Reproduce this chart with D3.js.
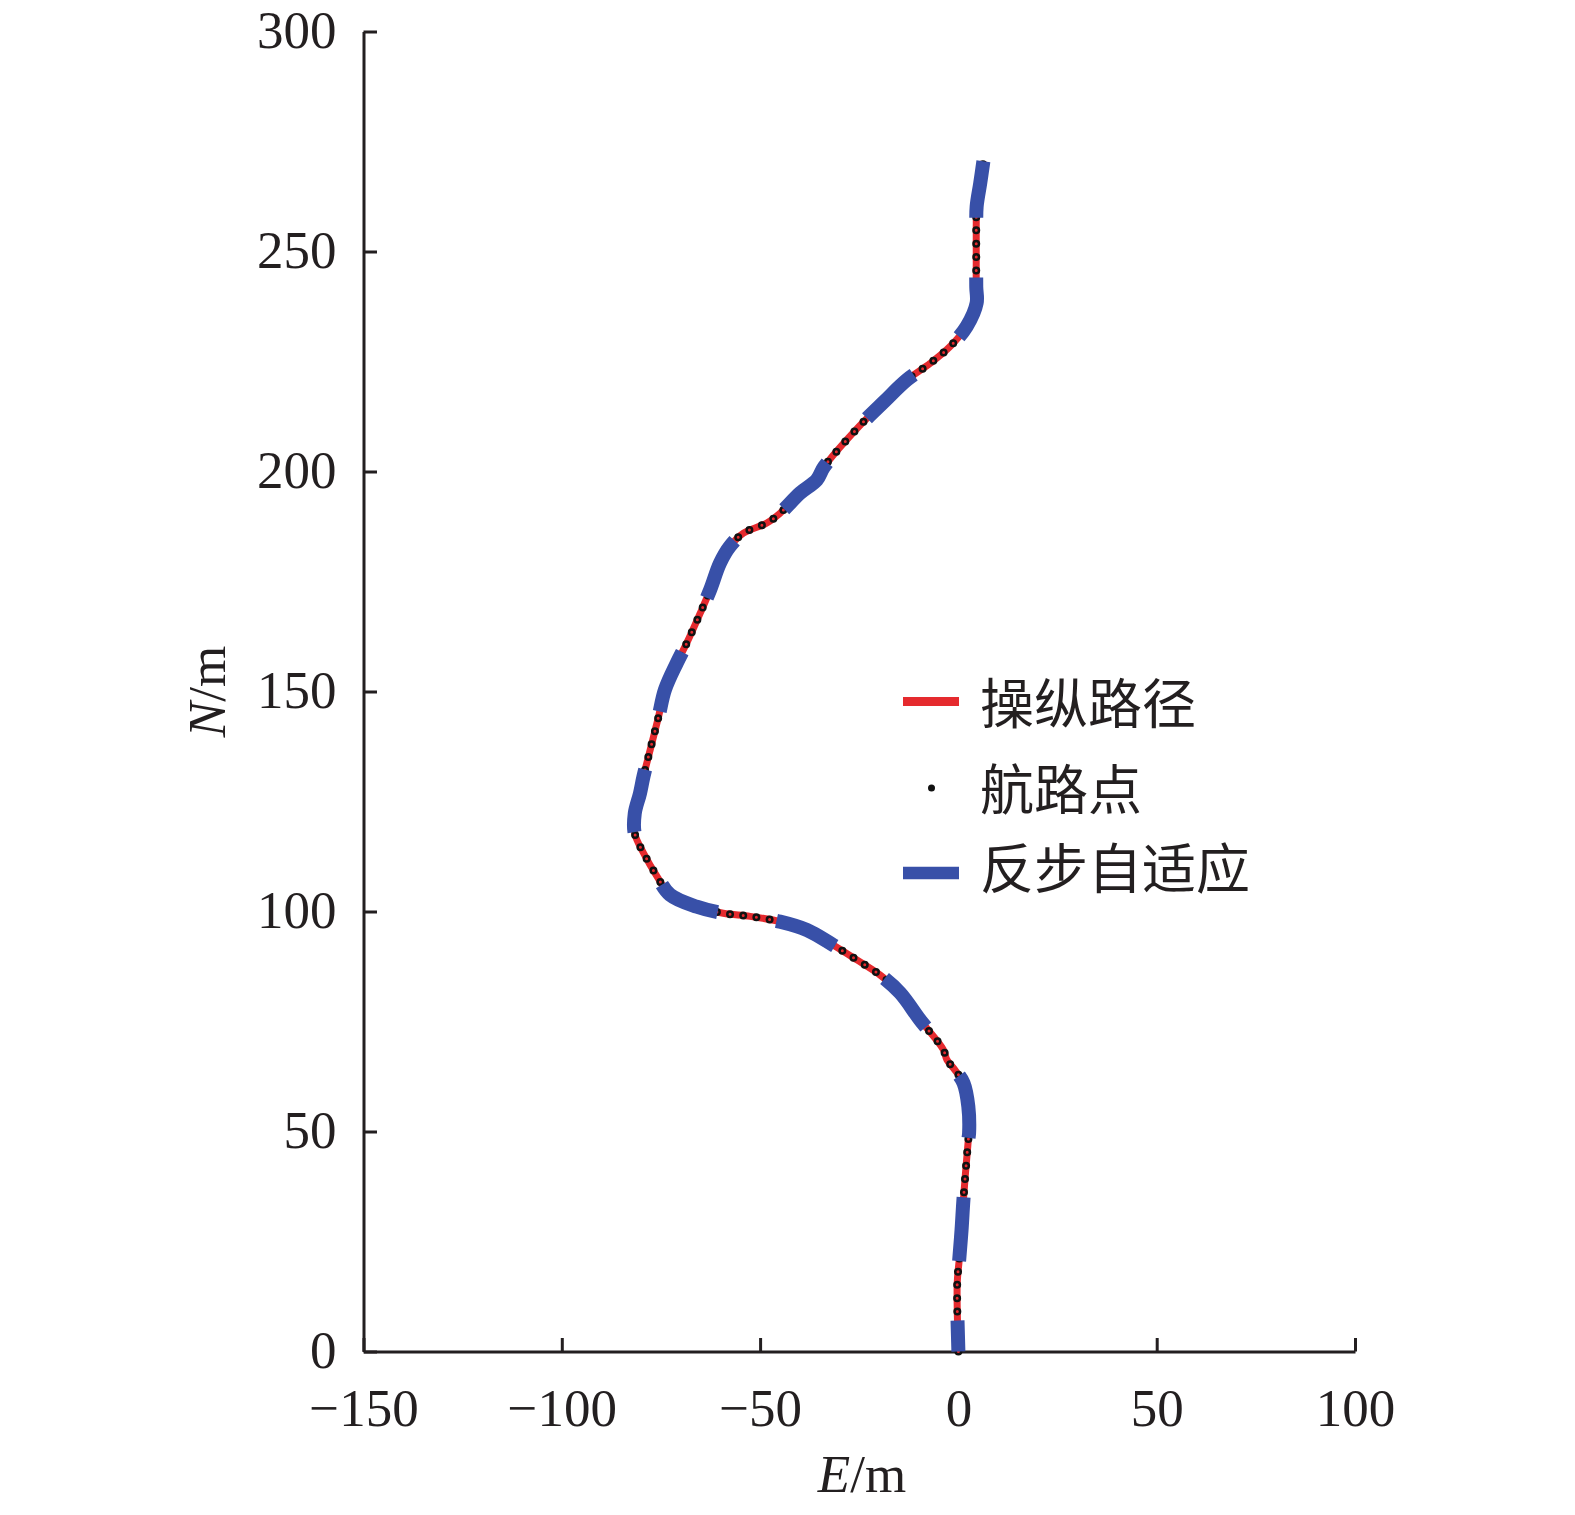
<!DOCTYPE html>
<html>
<head>
    <meta charset="utf-8">
    <title>航路跟踪</title>
    <script src="https://d3js.org/d3.v7.min.js"></script>
    <style>
        body { margin: 0; background: #fff; }
        text { fill: #231f20; }
    </style>
</head>
<body>
    <script>
        // route points (E, N in metres)
        var eastData = [0, -0.3, 0.2, 0.8, 1.3, 2.5, 2.7, 2.5, 1.3, -0.9, -2.9, -3.8, -9.7, -14.7, -19.8, -25.6, -31.6,
            -38.2, -45, -52.5, -59.3, -66, -72.7, -76, -79.4, -81.6, -81.6, -80.3, -79.4, -77.7, -75.6, -74,
            -71, -68.5, -65.1, -62.6, -60.1, -57.6, -54.2, -48.3, -45, -39.9, -35.7, -33.9, -25.1, -18.7, -13,
            -7.1, -2.1, 2.1, 4.6, 4.5, 4.5, 4.5, 4.6, 5.5, 6.3];
        var northData = [0, 15.5, 20.8, 27.7, 34.9, 48.1, 49.7, 55.7, 61, 64, 66.3, 68.6, 75.4, 81.5, 85.6, 89, 92.4,
            95.8, 97.7, 98.9, 99.6, 101.1, 103.8, 108, 113.3, 117.7, 122.3, 126.8, 130.7, 136.8, 144.3, 150.4,
            156.5, 161, 167.8, 173.1, 179.2, 183, 186, 188.3, 190.5, 195.1, 198.1, 201, 210.2, 215.9, 220.8,
            224.6, 228.4, 233, 238.3, 242, 248.9, 255.7, 260.2, 265.5, 270.5];
        var xTicks = [-150, -100, -50, 0, 50, 100];
        var yTicks = [0, 50, 100, 150, 200, 250, 300];
        var legendNames = ["操纵路径", "航路点", "反步自适应"];

        var width = 1575;
        var height = 1515;
        var red = "#e52a2e";
        var blue = "#3850a8";
        var ink = "#231f20";
        var serif = "'Liberation Serif', 'Times New Roman', serif";

        var pts = eastData.map(function(e, i) { return [e, northData[i]]; });

        var x = d3.scaleLinear().domain([-150, 100]).range([363.5, 1355]);
        var y = d3.scaleLinear().domain([0, 300]).range([1351.5, 31.5]);

        var svg = d3.select("body").append("svg")
            .attr("width", width)
            .attr("height", height);

        var line = d3.line()
            .x(function(d) { return x(d[0]); })
            .y(function(d) { return y(d[1]); })
            .curve(d3.curveCatmullRom);

        // axes, ticks point inward
        var xAxis = svg.append("g")
            .attr("transform", "translate(0," + y(0) + ")")
            .call(d3.axisBottom(x).tickValues(xTicks).tickSizeInner(-13.5).tickSizeOuter(0).tickPadding(37));
        var yAxis = svg.append("g")
            .attr("transform", "translate(" + x(-150) + ",0)")
            .call(d3.axisLeft(y).tickValues(yTicks).tickSizeInner(-13.5).tickSizeOuter(0).tickPadding(27));

        [xAxis, yAxis].forEach(function(a) {
            a.select(".domain").attr("stroke", ink).attr("stroke-width", 3);
            a.selectAll(".tick line").attr("stroke", ink).attr("stroke-width", 3);
            a.selectAll(".tick text")
                .attr("fill", ink)
                .style("font-family", serif)
                .style("font-size", "53px");
        });
        yAxis.selectAll(".tick text").attr("dy", "0.3em");

        // red route
        svg.append("path")
            .datum(pts)
            .attr("d", line)
            .attr("fill", "none")
            .attr("stroke", red)
            .attr("stroke-width", 7);

        // waypoint rings along the route
        svg.append("path")
            .datum(pts)
            .attr("d", line)
            .attr("fill", "none")
            .attr("stroke", "#111")
            .attr("stroke-width", 8)
            .attr("stroke-linecap", "round")
            .attr("stroke-dasharray", "0 13.3");
        svg.append("path")
            .datum(pts)
            .attr("d", line)
            .attr("fill", "none")
            .attr("stroke", red)
            .attr("stroke-width", 3)
            .attr("stroke-linecap", "round")
            .attr("stroke-dasharray", "0 13.3");

        // blue dashed controller track
        svg.append("path")
            .datum(pts)
            .attr("d", line)
            .attr("fill", "none")
            .attr("stroke", blue)
            .attr("stroke-width", 14)
            .attr("stroke-dasharray", "64 59.5")
            .attr("stroke-dashoffset", 33);

        // legend
        var lg = svg.append("g");
        var rows = [705, 791, 870];
        lg.append("line").attr("x1", 903).attr("x2", 959).attr("y1", 701.5).attr("y2", 701.5)
            .attr("stroke", red).attr("stroke-width", 9);
        lg.append("circle").attr("cx", 931.5).attr("cy", 788).attr("r", 3.5).attr("fill", "#111");
        lg.append("line").attr("x1", 903).attr("x2", 959).attr("y1", 873).attr("y2", 873)
            .attr("stroke", blue).attr("stroke-width", 12.5);
        lg.selectAll("text.leg")
            .data(legendNames)
            .enter()
            .append("text")
            .attr("class", "leg")
            .attr("x", 980)
            .attr("y", function(d, i) { return rows[i]; })
            .attr("dy", "0.36em")
            .style("font-family", "'Noto Sans CJK SC', sans-serif")
            .style("font-size", "54px")
            .text(function(d) { return d; });

        // axis titles
        var xt = svg.append("text")
            .attr("x", 862)
            .attr("y", 1492)
            .attr("text-anchor", "middle")
            .style("font-family", serif)
            .style("font-size", "53px");
        xt.append("tspan").style("font-style", "italic").text("E");
        xt.append("tspan").text("/m");

        var yt = svg.append("text")
            .attr("transform", "translate(225," + y(150) + ") rotate(-90)")
            .attr("text-anchor", "middle")
            .style("font-family", serif)
            .style("font-size", "53px");
        yt.append("tspan").style("font-style", "italic").text("N");
        yt.append("tspan").text("/m");
    </script>
</body>
</html>
